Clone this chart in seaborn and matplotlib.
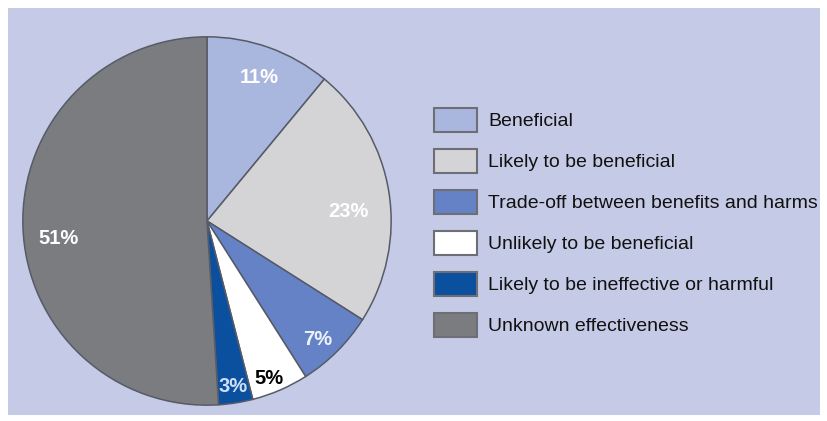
import numpy as np
import matplotlib
matplotlib.use("Agg")
import matplotlib.pyplot as plt
import seaborn as sns
from matplotlib.patches import Rectangle, Patch

categories = ["Beneficial", "Likely to be beneficial", "Trade-off between benefits and harms",
              "Unlikely to be beneficial", "Likely to be ineffective or harmful", "Unknown effectiveness"]
values = [11, 23, 7, 5, 3, 51]
pct_labels = ["11%", "23%", "7%", "5%", "3%", "51%"]

colors = ["#a9b6de", "#d4d4d6", "#6682c6", "#ffffff", "#0b4f9f", "#7b7c80"]
text_colors = ["white", "white", "#eef2fb", "black", "#cfe0f5", "white"]
label_radius = [0.83, 0.77, 0.88, 0.92, 0.91, 0.81]
label_shift = [0, -5, -2, -2, 0, 5]  # degrees

sns.set_theme(style="white")
plt.rcParams['font.family'] = ['Liberation Sans', 'DejaVu Sans']

W, H = 828, 421
fig = plt.figure(figsize=(W / 100, H / 100), dpi=100)
fig.patch.set_facecolor("white")
fig.patches.append(Rectangle((8 / W, 6 / H), (820 - 8) / W, (415 - 8) / H,
                             transform=fig.transFigure, facecolor="#c5cbe6",
                             edgecolor="none", zorder=-5))

cx, cy, r = 207, 221, 186
ax = fig.add_axes([(cx - r) / W, (H - cy - r) / H, 2 * r / W, 2 * r / H])
ax.set_zorder(2)
ax.set_facecolor("none")
wedges, _ = ax.pie(values, colors=colors, startangle=90, counterclock=False,
                   wedgeprops=dict(edgecolor="#565b68", linewidth=1.1))
ax.set_xlim(-1.01, 1.01)
ax.set_ylim(-1.01, 1.01)
ax.axis("off")

for w, lab, tc, rr, sh in zip(wedges, pct_labels, text_colors, label_radius, label_shift):
    ang = np.deg2rad((w.theta1 + w.theta2) / 2 + sh)
    ax.text(rr * np.cos(ang), rr * np.sin(ang), lab, ha="center", va="center",
            color=tc, fontsize=14.5, fontweight="bold")

fs = 14
fpx = fs * 100 / 72
box_h = 24
hh = (box_h / fpx - 0.245) / 0.65
handles = [Patch(facecolor=c, edgecolor="#6e6f76", linewidth=1.5) for c in colors]
leg = fig.legend(handles, categories, loc="upper left",
                 bbox_to_anchor=(434 / W, 1 - 108 / H), frameon=False,
                 fontsize=fs, handlelength=43 / fpx, handleheight=hh,
                 labelspacing=(41 - box_h) / fpx, handletextpad=11 / fpx,
                 borderpad=0, borderaxespad=0)
for t in leg.get_texts():
    t.set_color("#111111")

fig.savefig("out.png", dpi=100, facecolor=fig.get_facecolor())
